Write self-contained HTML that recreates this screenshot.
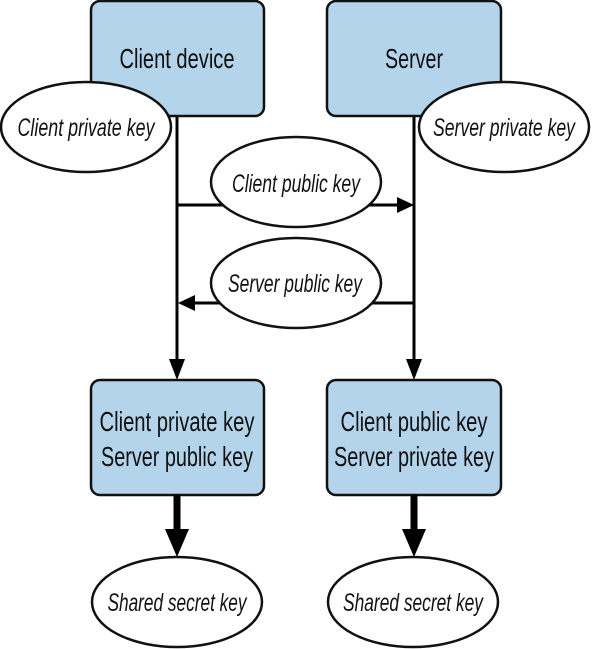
<!DOCTYPE html>
<html><head><meta charset="utf-8"><style>html,body{margin:0;padding:0;background:#fff}svg{display:block}</style></head>
<body>
<svg width="592" height="649" viewBox="0 0 592 649" xmlns="http://www.w3.org/2000/svg" font-family="'Liberation Sans Narrow','Liberation Sans',sans-serif" fill="#111">
<rect width="592" height="649" fill="#fff"/>
<line x1="177" y1="116" x2="177" y2="362" stroke="#000" stroke-width="3"/>
<line x1="414" y1="116" x2="414" y2="362" stroke="#000" stroke-width="3"/>
<polygon points="169,359 185,359 177,380" fill="#000"/>
<polygon points="406,359 422,359 414,380" fill="#000"/>
<line x1="177" y1="205" x2="400" y2="205" stroke="#000" stroke-width="3"/>
<polygon points="397,197 397,213 414,205" fill="#000"/>
<line x1="414" y1="303" x2="192" y2="303" stroke="#000" stroke-width="3"/>
<polygon points="195,295 195,311 178,303" fill="#000"/>
<rect x="91" y="1" width="173" height="115" rx="9" fill="#b3d4ea" stroke="#111" stroke-width="2.5"/>
<rect x="327" y="1" width="174" height="115" rx="9" fill="#b3d4ea" stroke="#111" stroke-width="2.5"/>
<text x="177" y="68" font-size="28" text-anchor="middle" textLength="115" lengthAdjust="spacingAndGlyphs">Client device</text>
<text x="414" y="68" font-size="28" text-anchor="middle" textLength="58" lengthAdjust="spacingAndGlyphs">Server</text>
<ellipse cx="86" cy="127" rx="85" ry="45" fill="#fff" stroke="#111" stroke-width="2.5"/>
<ellipse cx="504" cy="127" rx="85" ry="45" fill="#fff" stroke="#111" stroke-width="2.5"/>
<text x="86" y="136" font-size="25" font-style="italic" text-anchor="middle" textLength="137" lengthAdjust="spacingAndGlyphs">Client private key</text>
<text x="504" y="136" font-size="25" font-style="italic" text-anchor="middle" textLength="142" lengthAdjust="spacingAndGlyphs">Server private key</text>
<ellipse cx="296" cy="182" rx="85" ry="45" fill="#fff" stroke="#111" stroke-width="2.5"/>
<text x="296" y="192" font-size="25" font-style="italic" text-anchor="middle" textLength="128" lengthAdjust="spacingAndGlyphs">Client public key</text>
<ellipse cx="296" cy="283" rx="85" ry="45" fill="#fff" stroke="#111" stroke-width="2.5"/>
<text x="295" y="292" font-size="25" font-style="italic" text-anchor="middle" textLength="134" lengthAdjust="spacingAndGlyphs">Server public key</text>
<rect x="91" y="380" width="173" height="115" rx="9" fill="#b3d4ea" stroke="#111" stroke-width="2.5"/>
<rect x="327" y="380" width="174" height="115" rx="9" fill="#b3d4ea" stroke="#111" stroke-width="2.5"/>
<text x="177" y="431" font-size="28" text-anchor="middle" textLength="155" lengthAdjust="spacingAndGlyphs">Client private key</text>
<text x="177" y="466" font-size="28" text-anchor="middle" textLength="152" lengthAdjust="spacingAndGlyphs">Server public key</text>
<text x="414" y="431" font-size="28" text-anchor="middle" textLength="147" lengthAdjust="spacingAndGlyphs">Client public key</text>
<text x="414" y="466" font-size="28" text-anchor="middle" textLength="160" lengthAdjust="spacingAndGlyphs">Server private key</text>
<line x1="177" y1="495" x2="177" y2="531" stroke="#000" stroke-width="7"/>
<polygon points="165,529 189,529 177,557" fill="#000"/>
<line x1="414" y1="495" x2="414" y2="531" stroke="#000" stroke-width="7"/>
<polygon points="402,529 426,529 414,557" fill="#000"/>
<ellipse cx="177" cy="602" rx="85" ry="45" fill="#fff" stroke="#111" stroke-width="2.5"/>
<ellipse cx="413" cy="602" rx="85" ry="45" fill="#fff" stroke="#111" stroke-width="2.5"/>
<text x="177" y="611" font-size="25" font-style="italic" text-anchor="middle" textLength="139" lengthAdjust="spacingAndGlyphs">Shared secret key</text>
<text x="413" y="611" font-size="25" font-style="italic" text-anchor="middle" textLength="140" lengthAdjust="spacingAndGlyphs">Shared secret key</text>
</svg>
</body></html>
